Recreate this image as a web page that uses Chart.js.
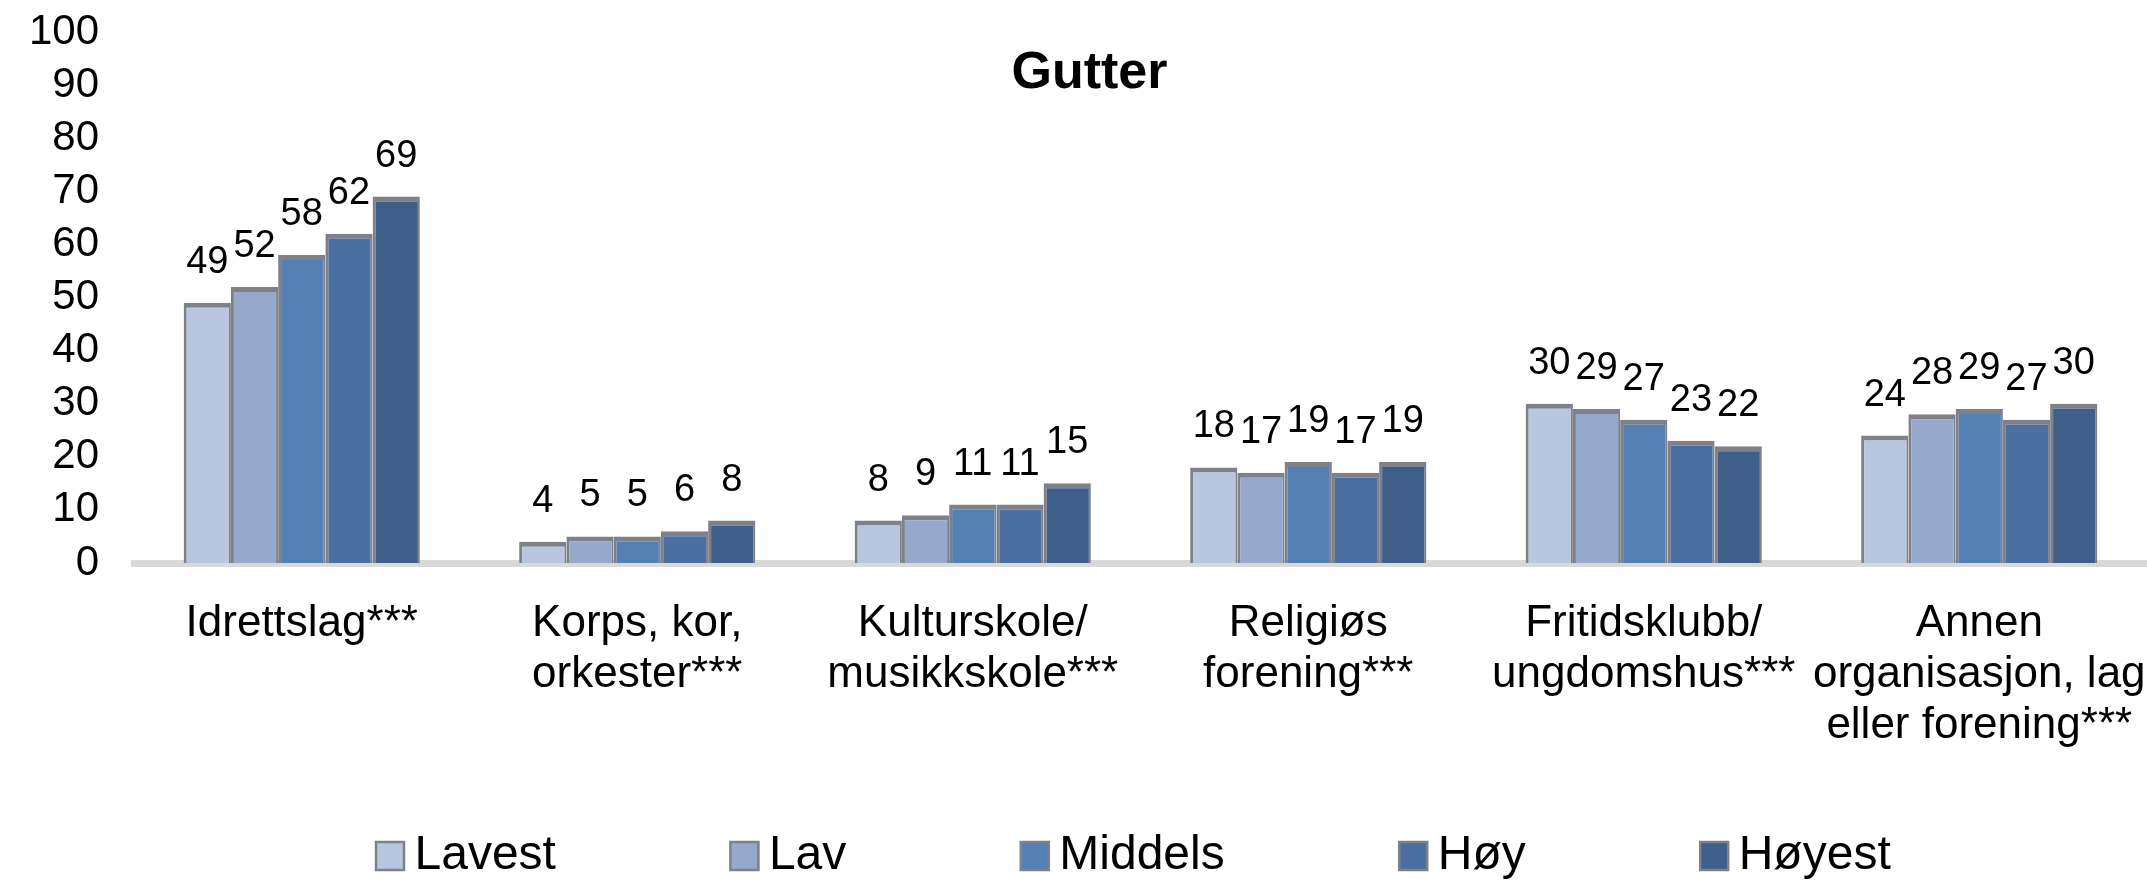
<!DOCTYPE html>
<html>
<head>
<meta charset="utf-8">
<script src="https://cdn.jsdelivr.net/npm/chart.js@4"></script>
<style>
  html, body { margin: 0; padding: 0; background: #fff; }
  canvas { display: block; }
</style>
</head>
<body>
<canvas id="chart" width="2147" height="882"></canvas>
<script>
// Categories (x axis) and one array per group
const categories = [
    ['Idrettslag***'],
    ['Korps, kor,', 'orkester***'],
    ['Kulturskole/', 'musikkskole***'],
    ['Religiøs', 'forening***'],
    ['Fritidsklubb/', 'ungdomshus***'],
    ['Annen', 'organisasjon, lag', 'eller forening***']
];
const seriesNames = ['Lavest', 'Lav', 'Middels', 'Høy', 'Høyest'];
const lavest  = [49, 4, 8, 18, 30, 24];
const lav     = [52, 5, 9, 17, 29, 28];
const middels = [58, 5, 11, 19, 27, 29];
const hoy     = [62, 6, 11, 17, 23, 27];
const hoyest  = [69, 8, 15, 19, 22, 30];
const yTicks  = [0, 10, 20, 30, 40, 50, 60, 70, 80, 90, 100];

const seriesValues = [lavest, lav, middels, hoy, hoyest];
const seriesColors = ['#b9c6df', '#94a9cb', '#5580b5', '#4a6fa0', '#3f5f8b'];

const FONT = '"Liberation Sans", Arial, sans-serif';
Chart.defaults.font.family = FONT;
Chart.defaults.color = '#000';

// Draws the number above each bar
const valueLabels = {
    id: 'valueLabels',
    afterDatasetsDraw(chart) {
        const ctx = chart.ctx;
        ctx.save();
        ctx.font = '38px ' + FONT;
        ctx.fillStyle = '#000';
        ctx.textAlign = 'center';
        ctx.textBaseline = 'alphabetic';
        chart.data.datasets.forEach((ds, i) => {
            chart.getDatasetMeta(i).data.forEach((bar, j) => {
                ctx.fillText(ds.data[j], bar.x, bar.y - 30);
            });
        });
        ctx.restore();
    }
};

// Moves legend and title to where the original has them
const LEGEND_BOX = 28;
const LEGEND_BW = 1;
const placeBlocks = {
    id: 'placeBlocks',
    afterLayout(chart) {
        const lg = chart.legend;
        if (lg && lg.lineWidths) {
            const pad = lg.options.labels.padding;
            const firstX = (lg.left + pad + lg.right - lg.lineWidths[0]) / 2;
            const wanted = 376 + LEGEND_BOX / 2 - LEGEND_BW / 2;
            const dx = wanted - firstX;
            lg.left += dx;
            lg.right += dx;
            lg.top = 856 - 24 - pad;
            lg.bottom = chart.height;
            lg.height = lg.bottom - lg.top;
        }
        const t = chart.titleBlock;
        if (t) {
            t.left += 16;
            t.right += 16;
        }
    }
};

const ctx = document.getElementById('chart').getContext('2d');
const chart = new Chart(ctx, {
    type: 'bar',
    data: {
        labels: categories,
        datasets: seriesNames.map((name, i) => ({
            label: name,
            data: seriesValues[i],
            backgroundColor: seriesColors[i],
            borderColor: '#7e8189',
            borderWidth: { top: 5, left: 3, right: 2, bottom: 0 },
            borderSkipped: 'bottom',
            categoryPercentage: 0.704,
            barPercentage: 1.0
        }))
    },
    options: {
        responsive: false,
        animation: false,
        devicePixelRatio: 1,
        layout: { padding: { left: 0, right: 0, top: 0, bottom: 0 } },
        scales: {
            x: {
                grid: { display: false, drawTicks: false },
                border: { display: true, color: '#d9d9d9', width: 7 },
                ticks: {
                    autoSkip: false,
                    maxRotation: 0,
                    minRotation: 0,
                    padding: 35,
                    font: { size: 44, lineHeight: 1.16 },
                    color: '#000'
                },
                afterFit(scale) {
                    scale.height = 882 - 100 - 563;
                    scale.paddingLeft = 0;
                    scale.paddingRight = 0;
                }
            },
            y: {
                min: 0,
                max: 100,
                grid: { display: false, drawTicks: false },
                border: { display: false },
                afterBuildTicks(scale) { scale.ticks = yTicks.map(v => ({ value: v })); },
                ticks: {
                    autoSkip: false,
                    padding: 35,
                    font: { size: 42 },
                    color: '#000'
                },
                afterFit(scale) {
                    scale.width = 134;
                    scale.paddingTop = 0;
                    scale.paddingBottom = 0;
                }
            }
        },
        plugins: {
            title: {
                display: true,
                text: 'Gutter',
                color: '#000',
                font: { size: 52, weight: 'bold', lineHeight: 1.2 },
                padding: { top: 42, bottom: -72.4 }
            },
            legend: {
                position: 'bottom',
                maxHeight: 100,
                labels: {
                    usePointStyle: true,
                    pointStyle: 'rect',
                    boxWidth: LEGEND_BW,
                    boxHeight: LEGEND_BOX,
                    padding: 188,
                    color: '#000',
                    font: { size: 48 }
                }
            },
            tooltip: { enabled: false }
        }
    },
    plugins: [valueLabels, placeBlocks]
});
</script>
</body>
</html>
